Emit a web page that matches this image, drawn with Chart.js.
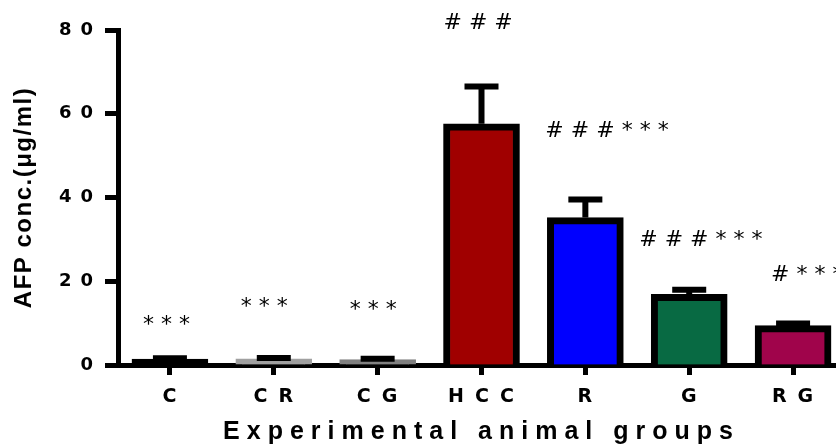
<!DOCTYPE html>
<html>
<head>
<meta charset="utf-8">
<script src="https://cdn.jsdelivr.net/npm/chart.js@4/dist/chart.umd.min.js"></script>
<style>
    html, body { margin: 0; padding: 0; overflow: hidden; background: #fff; }
    #wrap { width: 860px; height: 445px; }
</style>
</head>
<body>
<div id="wrap"><canvas id="myChart"></canvas></div>
<script>
// data
const groups = ['C', 'CR', 'CG', 'HCC', 'R', 'G', 'RG'];
const afpMean = [1.4, 1.5, 1.3, 57.6, 35.2, 16.9, 9.4];
const afpSem = [0.2, 0.2, 0.2, 8.9, 4.3, 1.1, 0.5];
const barColors = ['#000000', '#a0a0a0', '#808080', '#a00000', '#0000ff', '#086a43', '#a0044b'];
const edgeColors = ['#000000', '#a0a0a0', '#808080', '#000000', '#000000', '#000000', '#000000'];
const yTicks = [0, 20, 40, 60, 80];
const marks = ['***', '***', '***', '###', '###***', '###***', '#***'];
const markY = [9.5, 13.8, 13.1, 81.7, 55.7, 29.8, 21.4];

// letter spacing per scale part (the figure's text is spaced out)
const spaced = {
    id: 'spaced',
    afterLayout(chart) {
        const wrap = (scale, fn, sp) => {
            if (scale['_w_' + fn]) return;
            const orig = scale[fn];
            scale[fn] = function() {
                const c = this.ctx;
                c.save();
                c.letterSpacing = sp;
                orig.apply(this, arguments);
                c.restore();
            };
            scale['_w_' + fn] = true;
        };
        wrap(chart.scales.x, 'drawLabels', '11px');
        wrap(chart.scales.x, 'drawTitle', '7px');
        wrap(chart.scales.y, 'drawLabels', '9px');
        wrap(chart.scales.y, 'drawTitle', '1.5px');
    }
};

// error bars (upper only) + significance marks
const extras = {
    id: 'extras',
    afterDatasetsDraw(chart) {
        const ctx = chart.ctx;
        const xs = chart.scales.x, ys = chart.scales.y;
        ctx.save();
        ctx.strokeStyle = '#000';
        ctx.lineWidth = 6;
        ctx.lineCap = 'butt';
        afpMean.forEach((m, i) => {
            const x = xs.getPixelForValue(i);
            const y0 = ys.getPixelForValue(m);
            const y1 = ys.getPixelForValue(m + afpSem[i]);
            ctx.beginPath();
            ctx.moveTo(x, y0);
            ctx.lineTo(x, y1);
            ctx.moveTo(x - 17, y1);
            ctx.lineTo(x + 17, y1);
            ctx.stroke();
        });
        ctx.restore();
    },
    afterDraw(chart) {
        const ctx = chart.ctx;
        const xs = chart.scales.x, ys = chart.scales.y;
        const dx = [-27, -33, -28, -38, -40, -50, -22];
        ctx.save();
        ctx.fillStyle = '#000';
        ctx.font = '22px "DejaVu Sans"';
        ctx.letterSpacing = '7px';
        ctx.textAlign = 'left';
        ctx.textBaseline = 'middle';
        marks.forEach((t, i) => {
            ctx.fillText(t, xs.getPixelForValue(i) + dx[i], ys.getPixelForValue(markY[i]));
        });
        ctx.restore();
    }
};

const ctx = document.getElementById('myChart').getContext('2d');
new Chart(ctx, {
    type: 'bar',
    data: {
        labels: groups,
        datasets: [{
            data: afpMean,
            backgroundColor: barColors,
            borderColor: edgeColors,
            borderWidth: 7,
            barThickness: 76
        }]
    },
    options: {
        responsive: true,
        maintainAspectRatio: false,
        animation: false,
        events: [],
        layout: { padding: { top: 30, right: 15, left: 0, bottom: 0 } },
        plugins: { legend: { display: false }, tooltip: { enabled: false } },
        scales: {
            x: {
                offset: true,
                afterFit(s) { s.height = 80; },
                grid: { offset: false, drawOnChartArea: false, tickLength: 10, tickWidth: 5, tickColor: '#000' },
                border: { display: true, width: 5, color: '#000' },
                ticks: { color: '#000', padding: 11, labelOffset: 5, font: { family: 'DejaVu Sans', size: 19, weight: 'bold' } },
                title: {
                    display: true,
                    text: 'Experimental animal groups',
                    color: '#000',
                    padding: 0,
                    font: { family: 'Liberation Sans', size: 25, weight: 'bold', lineHeight: 1.0 }
                }
            },
            y: {
                min: 0,
                max: 80,
                afterFit(s) { s.width = 118; },
                afterBuildTicks(s) { s.ticks = yTicks.map(v => ({ value: v })); },
                grid: { drawOnChartArea: false, tickLength: 13, tickWidth: 5, tickColor: '#000' },
                border: { display: true, width: 5, color: '#000' },
                ticks: { color: '#000', padding: 3, font: { family: 'DejaVu Sans', size: 18, weight: 'bold' } },
                title: {
                    display: true,
                    text: 'AFP conc.(μg/ml)',
                    color: '#000',
                    padding: { top: 10, bottom: 0 },
                    font: { family: 'Liberation Sans', size: 24, weight: 'bold' }
                }
            }
        }
    },
    plugins: [spaced, extras]
});
</script>
</body>
</html>
